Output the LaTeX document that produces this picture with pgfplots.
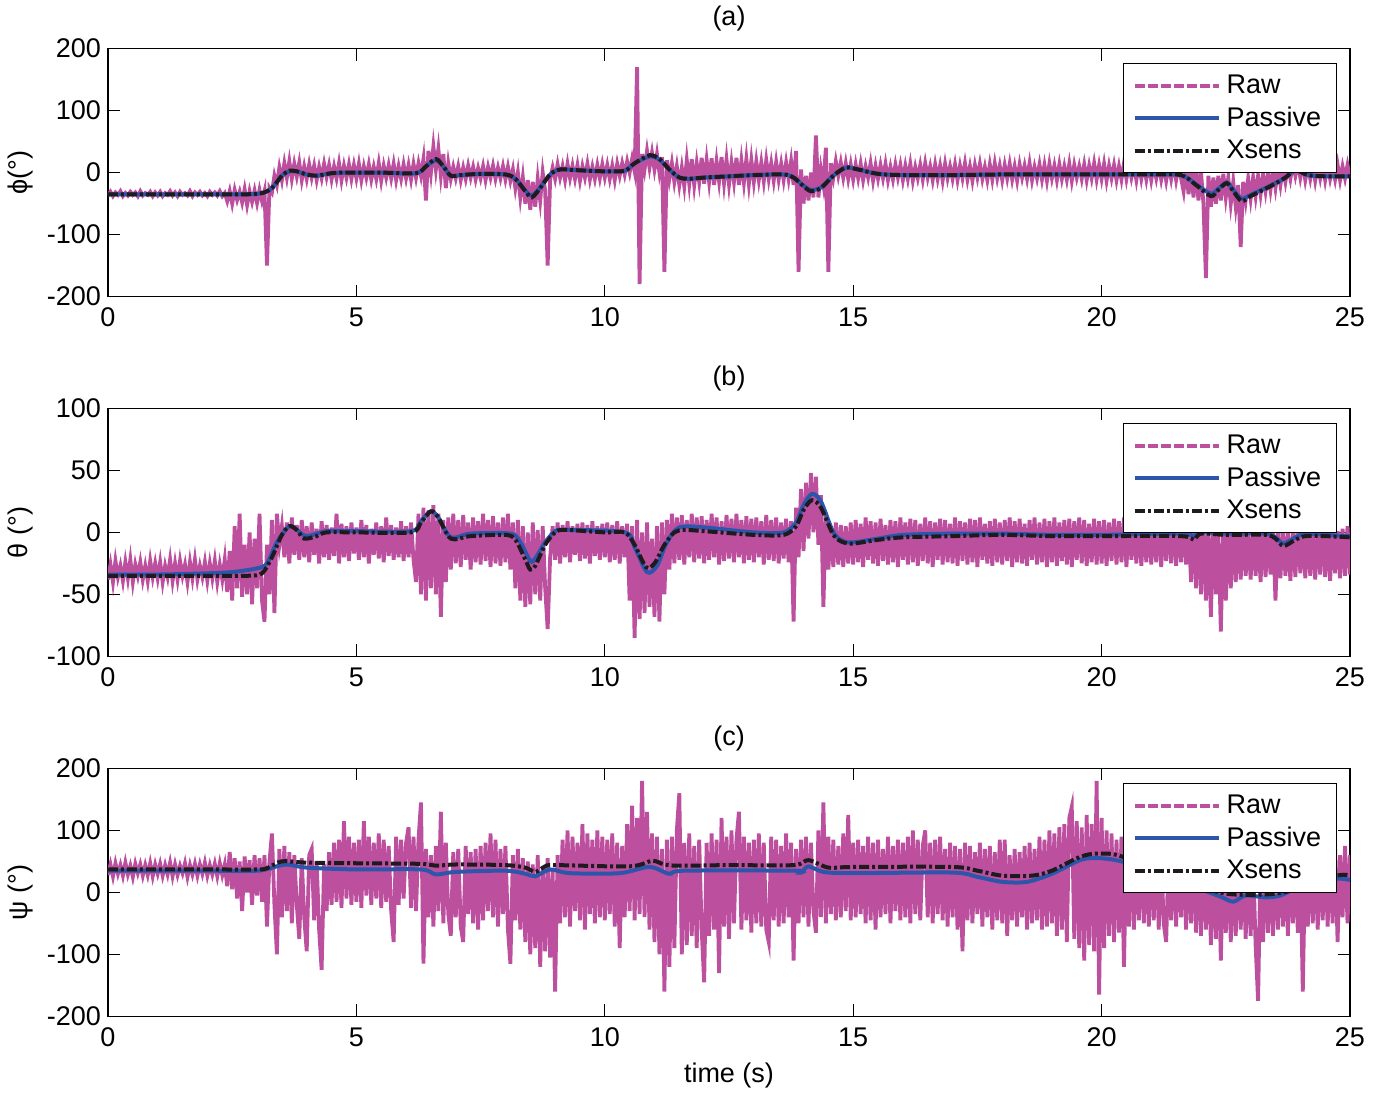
\documentclass[border=0pt]{standalone}
\usepackage{fontspec}
\setmainfont{Liberation Sans}
\usepackage{pgfplots}
\pgfplotsset{compat=1.18}
\definecolor{rawc}{RGB}{188,80,158}
\definecolor{pasc}{RGB}{45,85,170}
\definecolor{xsc}{RGB}{30,26,30}
\pgfplotsset{
  imu/.style={
    scale only axis, width=621pt, height=124pt,
    xmin=0, xmax=25, xtick={0,5,...,25},
    tick align=inside, major tick length=6pt,
    axis line style={line width=0.6pt},
    every tick/.style={black, line width=0.6pt},
    font=\fontsize{13.5}{16}\selectfont,
    /pgf/number format/assume math mode=true,
    xticklabel style={yshift=-2pt},
    ylabel style={at={(axis description cs:-0.0708,0.5)}, anchor=center},
    title style={yshift=-1pt},
    legend cell align=left,
    legend style={at={(0.9895,0.941)}, anchor=north east, draw=black,
      line width=0.6pt, fill=white, inner xsep=5pt, inner ysep=3pt,
      nodes={inner sep=2.6pt}, font=\fontsize{13.5}{16}\selectfont},
    legend image code/.code={\draw[##1] (0pt,0pt) -- (42pt,0pt);},
  },
  rawline/.style={rawc, line width=1.9pt},
  rawleg/.style={rawc, line width=2pt, dash pattern=on 5pt off 1.5pt},
  pas/.style={pasc, line width=2pt},
  xs/.style={xsc, line width=2pt, dash pattern=on 5pt off 1.5pt on 1.5pt off 1.5pt},
}
\begin{document}
\begin{tikzpicture}
\path[use as bounding box] (0,0) rectangle (686.5pt,549pt);

% (a) roll
\begin{axis}[imu, at={(54pt,400.7pt)}, anchor=south west,
  ymin=-200, ymax=200, ytick={-200,-100,0,100,200},
  title={(a)}, ylabel={ϕ(°)}]
\addplot[rawline, forget plot] table[row sep=\\, header=false, x expr=\coordindex/20, y index=0] {
-37\\-31\\-38\\-32\\-36\\-30\\-38\\-33\\-37\\-31\\-36\\-32\\-38\\-30\\-37\\-33\\-36\\-31\\-38\\-32\\
-37\\-31\\-38\\-33\\-36\\-30\\-37\\-32\\-38\\-31\\-36\\-33\\-37\\-30\\-38\\-32\\-36\\-31\\-37\\-33\\
-38\\-31\\-36\\-32\\-37\\-30\\-38\\-33\\-46\\-30\\-50\\-28\\-44\\-31\\-48\\-27\\-52\\-30\\-47\\-29\\
-49\\-28\\-46\\-30\\-150\\-25\\-32\\-5\\-20\\8\\-12\\15\\-8\\18\\-10\\14\\-6\\16\\-12\\10\\
-10\\13\\-8\\11\\-12\\9\\-9\\14\\-7\\12\\-11\\10\\-9\\15\\-12\\11\\-8\\13\\-10\\12\\
-9\\14\\-12\\10\\-8\\13\\-11\\9\\-10\\15\\-13\\11\\-8\\12\\-9\\14\\-12\\10\\-10\\13\\
-9\\12\\-11\\14\\-8\\15\\-5\\22\\-45\\35\\0\\42\\5\\38\\-5\\30\\-25\\15\\-10\\9\\
-9\\10\\-12\\8\\-10\\11\\-8\\9\\-11\\7\\-9\\10\\-12\\9\\-8\\11\\-10\\8\\-9\\10\\
-11\\9\\-13\\5\\-25\\0\\-40\\-8\\-50\\-12\\-60\\-15\\-55\\-10\\-45\\0\\-30\\-150\\-10\\8\\
-10\\13\\-8\\10\\-12\\14\\-9\\11\\-10\\12\\-13\\10\\-8\\14\\-11\\9\\-10\\12\\-9\\13\\
-8\\12\\-10\\11\\-12\\14\\-5\\15\\-3\\18\\0\\22\\2\\170\\-180\\30\\5\\35\\8\\32\\
5\\30\\0\\25\\-160\\20\\-10\\15\\-15\\10\\-20\\8\\-22\\20\\-18\\22\\-20\\15\\-15\\24\\
-18\\20\\-15\\23\\-20\\18\\-14\\25\\-17\\21\\-19\\16\\-15\\24\\-20\\19\\-16\\22\\-18\\20\\
-15\\18\\-12\\16\\-14\\20\\-10\\15\\-13\\17\\-11\\14\\-12\\16\\-10\\18\\-20\\35\\-160\\5\\
-50\\-5\\-45\\0\\-40\\60\\-40\\5\\-20\\40\\-160\\15\\-8\\18\\-5\\16\\-8\\15\\-10\\13\\
-11\\13\\-9\\14\\-12\\10\\-8\\15\\-13\\11\\-10\\12\\-9\\14\\-12\\9\\-11\\13\\-8\\12\\
-12\\11\\-10\\14\\-13\\9\\-9\\12\\-11\\15\\-8\\10\\-12\\13\\-10\\11\\-13\\14\\-9\\10\\
-10\\13\\-12\\11\\-9\\15\\-11\\10\\-13\\12\\-8\\14\\-10\\9\\-12\\13\\-11\\15\\-9\\11\\
-12\\12\\-9\\14\\-11\\10\\-13\\13\\-8\\11\\-10\\15\\-12\\9\\-9\\13\\-11\\12\\-13\\14\\
-9\\11\\-12\\13\\-10\\10\\-11\\14\\-13\\12\\-8\\10\\-10\\13\\-12\\11\\-9\\15\\-11\\12\\
-10\\14\\-13\\11\\-9\\12\\-12\\10\\-11\\15\\-10\\13\\-8\\11\\-12\\14\\-10\\12\\-11\\13\\
-12\\11\\-9\\13\\-11\\10\\-13\\12\\-10\\14\\-12\\11\\-9\\-30\\10\\-35\\5\\-40\\8\\-45\\
2\\-50\\-170\\-5\\-55\\-8\\-50\\-5\\-45\\-2\\-40\\-8\\-50\\-15\\-55\\-20\\-120\\-15\\-45\\-10\\
-42\\-8\\-38\\-5\\-35\\-3\\-30\\0\\-28\\2\\-25\\5\\-20\\8\\-15\\10\\-10\\15\\-5\\16\\
-8\\14\\-12\\10\\-10\\13\\-13\\11\\-9\\14\\-12\\12\\-10\\9\\-11\\13\\-12\\10\\-9\\12\\
-8\\
};
\addlegendimage{rawleg}
\addlegendentry{Raw}
\addplot[pas, smooth] coordinates {
(0,-35) (1,-35) (2,-35) (2.8,-35) (3.1,-33) (3.3,-25) (3.5,-5) (3.65,2) (3.8,2)
(4.0,-3) (4.2,-5) (4.5,-1) (4.8,0) (5.5,0) (6.2,-1) (6.4,10) (6.6,20) (6.75,10)
(6.9,-5) (7.1,-4) (7.5,-2) (8.0,-3) (8.2,-10) (8.4,-29) (8.53,-37) (8.7,-24)
(8.9,-3) (9.1,5) (9.4,4) (10.0,2) (10.4,3) (10.6,15) (10.9,26) (11.1,21) (11.3,5)
(11.5,-8) (11.7,-10) (12.0,-8) (12.5,-6) (13.0,-4) (13.6,-3) (13.8,-8) (14.0,-21)
(14.15,-28) (14.35,-24) (14.6,-5) (14.85,8) (15.1,5) (15.5,-2) (16,-4) (17,-4)
(18,-3) (19,-3) (20,-3) (21,-3) (21.6,-4) (21.9,-19) (22.2,-34) (22.35,-26)
(22.52,-16) (22.65,-28) (22.82,-42) (23.0,-36) (23.4,-21) (23.7,-8) (23.9,4)
(24.15,-4) (24.5,-6) (25,-6)
};
\addlegendentry{Passive}
\addplot[xs, smooth] coordinates {
(0,-35) (1,-35) (2,-35) (2.8,-35) (3.1,-33) (3.3,-25) (3.5,-5) (3.65,3) (3.8,2)
(4.0,-3) (4.2,-5) (4.5,-1) (4.8,0) (5.5,0) (6.2,-1) (6.4,10) (6.6,22) (6.75,10)
(6.9,-5) (7.1,-4) (7.5,-2) (8.0,-3) (8.2,-10) (8.4,-30) (8.53,-40) (8.7,-25)
(8.9,-3) (9.1,5) (9.4,4) (10.0,2) (10.4,3) (10.6,15) (10.9,28) (11.1,22) (11.3,5)
(11.5,-8) (11.7,-10) (12.0,-8) (12.5,-6) (13.0,-4) (13.6,-3) (13.8,-8) (14.0,-22)
(14.15,-30) (14.35,-25) (14.6,-5) (14.85,8) (15.1,5) (15.5,-2) (16,-4) (17,-4)
(18,-3) (19,-3) (20,-3) (21,-3) (21.6,-4) (21.9,-20) (22.2,-38) (22.35,-28)
(22.52,-17) (22.65,-30) (22.82,-46) (23.0,-38) (23.4,-22) (23.7,-8) (23.9,4)
(24.15,-4) (24.5,-6) (25,-6)
};
\addlegendentry{Xsens}
\end{axis}

% (b) pitch
\begin{axis}[imu, at={(54pt,220.8pt)}, anchor=south west,
  ymin=-100, ymax=100, ytick={-100,-50,0,50,100},
  title={(b)}, ylabel={θ (°)}]
\addplot[rawline, forget plot] table[row sep=\\, header=false, x expr=\coordindex/20, y index=0] {
-38\\-26\\-40\\-23\\-36\\-27\\-39\\-24\\-37\\-22\\-40\\-26\\-35\\-24\\-38\\-27\\-39\\-23\\-36\\-25\\
-37\\-24\\-40\\-27\\-36\\-22\\-39\\-25\\-38\\-23\\-35\\-26\\-40\\-24\\-37\\-22\\-38\\-27\\-36\\-24\\
-39\\-25\\-37\\-23\\-40\\-26\\-38\\-22\\-48\\-15\\-55\\5\\-45\\15\\-52\\-10\\-50\\0\\-58\\-5\\
-45\\15\\-55\\-72\\-10\\-50\\10\\-65\\15\\-10\\5\\-20\\8\\-25\\12\\-18\\6\\-22\\10\\-20\\
5\\-24\\8\\-18\\3\\-25\\9\\-20\\6\\-22\\4\\-19\\15\\-25\\7\\-20\\5\\-23\\8\\-17\\
4\\-22\\10\\-20\\6\\-25\\3\\-18\\8\\-21\\5\\-24\\12\\-19\\6\\-22\\4\\-20\\9\\-23\\
5\\-20\\8\\-22\\-40\\15\\-50\\20\\-55\\18\\-45\\22\\-50\\15\\-68\\10\\-40\\12\\-30\\15\\
-25\\10\\-28\\14\\-22\\8\\-30\\12\\-24\\9\\-26\\15\\-23\\10\\-28\\13\\-25\\8\\-27\\12\\
-24\\15\\-30\\8\\-45\\10\\-55\\5\\-60\\0\\-58\\8\\-50\\2\\-55\\5\\-45\\-78\\-20\\5\\
-22\\8\\-25\\6\\-20\\9\\-24\\5\\-18\\7\\-23\\8\\-21\\6\\-25\\9\\-19\\5\\-22\\7\\
-20\\8\\-24\\6\\-22\\9\\-25\\5\\-20\\7\\-55\\5\\-85\\10\\-70\\0\\-65\\8\\-60\\-5\\
-68\\5\\-72\\8\\-50\\10\\-30\\15\\-25\\12\\-22\\14\\-26\\10\\-20\\15\\-24\\12\\-21\\13\\
-25\\10\\-22\\15\\-20\\12\\-26\\9\\-23\\14\\-21\\11\\-24\\15\\-20\\10\\-25\\13\\-22\\11\\
-24\\12\\-20\\9\\-26\\14\\-22\\10\\-23\\12\\-25\\8\\-21\\11\\-24\\9\\-72\\20\\-20\\35\\
-15\\40\\-5\\48\\0\\45\\-10\\30\\-60\\15\\-30\\5\\-28\\8\\-26\\6\\-28\\5\\-25\\8\\
-26\\10\\-24\\7\\-28\\12\\-22\\9\\-25\\8\\-27\\11\\-23\\6\\-26\\10\\-24\\9\\-28\\12\\
-22\\8\\-26\\11\\-24\\10\\-27\\7\\-23\\12\\-25\\9\\-28\\8\\-22\\11\\-26\\10\\-24\\7\\
-25\\12\\-27\\9\\-23\\8\\-26\\11\\-24\\10\\-28\\12\\-22\\7\\-25\\9\\-27\\11\\-24\\8\\
-26\\10\\-23\\12\\-28\\9\\-24\\11\\-25\\7\\-27\\10\\-22\\12\\-26\\8\\-24\\11\\-28\\9\\
-24\\12\\-27\\8\\-23\\10\\-26\\11\\-28\\9\\-22\\12\\-25\\10\\-27\\7\\-24\\11\\-26\\9\\
-25\\10\\-27\\8\\-23\\11\\-26\\9\\-24\\12\\-28\\10\\-22\\8\\-25\\11\\-27\\9\\-24\\10\\
-26\\9\\-24\\11\\-28\\8\\-23\\10\\-25\\12\\-27\\9\\-24\\11\\-26\\8\\-40\\10\\-45\\5\\
-50\\8\\-55\\5\\-68\\10\\-50\\0\\-80\\5\\-55\\8\\-45\\5\\-40\\3\\-38\\5\\-35\\0\\
-38\\4\\-35\\2\\-40\\5\\-36\\0\\-34\\3\\-55\\2\\-37\\4\\-35\\0\\-39\\3\\-36\\5\\
-33\\2\\-37\\4\\-35\\0\\-38\\3\\-34\\5\\-36\\2\\-39\\4\\-33\\1\\-37\\3\\-35\\5\\
-34\\
};
\addlegendimage{rawleg}
\addlegendentry{Raw}
\addplot[pas, smooth] coordinates {
(0,-34) (1,-34) (2,-33) (2.5,-32) (3.0,-29) (3.2,-25) (3.4,-8) (3.65,5) (3.8,2)
(4.0,-3) (4.4,1) (5,1) (6.1,1) (6.3,9) (6.5,17) (6.65,12) (6.9,-4) (7.3,-1)
(8.1,-1) (8.3,-8) (8.5,-23) (8.6,-21) (8.8,-8) (9.0,1) (9.2,2) (10.4,0)
(10.6,-12) (10.85,-32) (11.05,-27) (11.25,-8) (11.5,4) (12.0,4) (13.0,0)
(13.6,0) (13.85,8) (14.0,22) (14.17,31) (14.35,25) (14.6,0) (14.8,-7) (15.0,-8)
(15.5,-5) (16.0,-2) (17,-1) (18,-1) (19,-2) (20,-2) (21.6,-1) (21.85,-3)
(22.0,0) (22.5,-1) (23.3,-1) (23.5,-4) (23.66,-9) (23.9,-4) (24.1,-1) (24.5,-2)
(25,-3)
};
\addlegendentry{Passive}
\addplot[xs, smooth] coordinates {
(0,-35) (1,-35) (2,-35) (2.8,-35) (3.1,-33) (3.3,-20) (3.5,-2) (3.65,5) (3.8,2)
(3.95,-5) (4.2,-3) (4.4,0) (5,0) (6.1,0) (6.3,8) (6.5,17) (6.65,12) (6.9,-5)
(7.3,-3) (8.0,-2) (8.2,-6) (8.4,-22) (8.5,-30) (8.6,-27) (8.8,-10) (9.0,0)
(9.2,2) (10.0,0) (10.4,0) (10.6,-10) (10.83,-28) (11.0,-25) (11.2,-10) (11.4,0)
(11.6,2) (12.0,1) (13.0,-2) (13.6,-2) (13.85,5) (14.0,18) (14.17,26) (14.35,20)
(14.6,-2) (14.8,-8) (15.0,-9) (15.5,-6) (16.0,-4) (17,-3) (18,-2) (19,-3) (20,-3)
(21.6,-3) (21.85,-6) (22.0,-1) (22.5,-2) (23.3,-2) (23.5,-5) (23.66,-11)
(23.9,-6) (24.1,-3) (24.5,-3) (25,-4)
};
\addlegendentry{Xsens}
\end{axis}

% (c) yaw
\begin{axis}[imu, at={(54pt,40.8pt)}, anchor=south west,
  ymin=-200, ymax=200, ytick={-200,-100,0,100,200},
  title={(c)}, ylabel={ψ (°)}, xlabel={time (s)},
  xlabel style={at={(axis description cs:0.5,-0.24)}, anchor=center}]
\addplot[rawline, forget plot] table[row sep=\\, header=false, x expr=\coordindex/20, y index=0] {
28\\45\\26\\47\\30\\44\\27\\48\\29\\43\\25\\46\\31\\45\\27\\44\\28\\47\\26\\45\\
30\\46\\27\\44\\29\\48\\26\\45\\28\\43\\31\\47\\25\\44\\29\\46\\27\\45\\30\\48\\
27\\44\\29\\46\\26\\47\\28\\45\\10\\65\\5\\55\\-10\\50\\-30\\58\\0\\52\\-20\\60\\
-5\\55\\-15\\60\\-55\\50\\95\\-20\\-100\\70\\-40\\75\\-30\\65\\-50\\60\\-20\\-75\\55\\-40\\
-95\\60\\70\\-45\\50\\-60\\-125\\45\\-30\\65\\-20\\80\\-15\\85\\-25\\115\\-10\\90\\-20\\80\\
-15\\85\\-25\\115\\-5\\90\\-20\\80\\-10\\95\\-25\\85\\-15\\75\\-30\\-80\\90\\-20\\85\\-10\\
80\\105\\-25\\90\\-30\\85\\145\\-115\\70\\-40\\60\\-55\\75\\-30\\130\\-50\\80\\-35\\-70\\65\\
-40\\70\\-55\\-80\\75\\-35\\65\\-50\\70\\-60\\75\\-45\\80\\-30\\95\\-40\\85\\-55\\70\\-35\\
75\\-60\\-115\\60\\-45\\70\\-60\\55\\-80\\50\\-100\\45\\-90\\60\\-120\\40\\-95\\55\\-105\\35\\
-160\\60\\-50\\85\\-40\\100\\-55\\90\\-30\\80\\-45\\110\\-60\\95\\-35\\85\\-50\\100\\-40\\90\\
-45\\85\\-35\\95\\-55\\80\\-90\\75\\-40\\110\\-30\\140\\-45\\120\\-35\\180\\-40\\130\\-60\\95\\
-80\\90\\-100\\70\\-160\\85\\-120\\90\\-90\\100\\160\\-100\\80\\-85\\95\\-70\\75\\-90\\85\\-60\\
-145\\80\\-70\\95\\-60\\85\\-130\\120\\-55\\90\\-75\\100\\-50\\85\\130\\-60\\90\\-45\\80\\-65\\
85\\-50\\95\\-55\\80\\-60\\-80\\90\\-45\\85\\-55\\75\\-50\\95\\-40\\80\\-110\\70\\-50\\85\\
-40\\90\\-55\\80\\-30\\-65\\100\\-40\\145\\-50\\90\\-35\\85\\-45\\75\\-40\\95\\-30\\125\\-45\\
80\\-40\\85\\-35\\75\\-50\\90\\-45\\80\\-60\\85\\-40\\70\\-35\\90\\-50\\75\\-30\\85\\-45\\
80\\-40\\90\\-50\\100\\-35\\85\\-45\\75\\100\\-40\\80\\-50\\85\\-35\\90\\-45\\70\\-55\\80\\
-40\\75\\-60\\70\\-95\\80\\-45\\75\\-50\\65\\-35\\80\\-55\\70\\-40\\75\\-60\\65\\-45\\85\\
-50\\85\\-70\\60\\-45\\70\\-55\\65\\-40\\75\\-60\\80\\-50\\70\\-45\\90\\-60\\85\\-55\\100\\
-50\\95\\-70\\105\\-60\\110\\-80\\120\\138\\-75\\115\\-90\\105\\-110\\125\\-85\\110\\-95\\180\\-165\\
120\\-90\\100\\-70\\95\\-80\\85\\-65\\90\\-120\\75\\-55\\80\\-60\\70\\-45\\85\\-50\\75\\-55\\
70\\-45\\80\\-60\\65\\-50\\-80\\70\\-45\\75\\-55\\65\\-40\\70\\-60\\60\\-50\\75\\-65\\70\\
-70\\65\\-60\\75\\-85\\60\\-75\\70\\-110\\55\\-65\\60\\-80\\50\\-70\\65\\-60\\55\\-75\\60\\
-70\\50\\-85\\-175\\55\\-80\\60\\-65\\50\\-70\\55\\-60\\65\\-55\\50\\-70\\60\\-50\\55\\-65\\
50\\-160\\60\\-55\\65\\-50\\55\\-60\\70\\-45\\60\\-55\\65\\-50\\70\\-80\\60\\-40\\75\\-50\\
60\\
};
\addlegendimage{rawleg}
\addlegendentry{Raw}
\addplot[pas, smooth] coordinates {
(0,35) (1,35) (2,35) (3.0,35) (3.3,40) (3.6,45) (4.0,40) (5.0,37) (6.3,37)
(6.6,29) (7.0,33) (8.0,35) (8.4,30) (8.6,26) (8.9,37) (9.3,31) (10.3,31)
(10.9,41) (11.3,30) (11.6,35) (13.8,35) (13.95,32) (14.1,42) (14.4,33) (15,31)
(17,32) (17.5,25) (18.0,17) (18.5,17) (19.0,30) (19.6,53) (20.0,55) (20.4,50)
(21.0,35) (21.5,20) (22.0,5) (22.4,-7) (22.65,-15) (22.9,-5) (23.3,-8) (23.6,-5)
(24.0,10) (24.7,22) (25,20)
};
\addlegendentry{Passive}
\addplot[xs, smooth] coordinates {
(0,37) (1,37) (2,37) (3.0,37) (3.2,39) (3.5,50) (4.0,48) (5.0,47) (6.3,46)
(6.6,43) (7.0,45) (8.0,44) (8.4,40) (8.6,33) (8.8,42) (9.0,44) (10.5,42)
(10.95,51) (11.2,45) (11.5,43) (12.5,44) (13.8,44) (14.1,52) (14.5,40) (15,41)
(17,41) (17.5,35) (18.0,27) (18.6,27) (19.0,35) (19.5,55) (19.8,62) (20.2,62)
(20.5,55) (21.0,35) (21.5,20) (22.0,8) (22.5,-2) (23.0,-4) (23.5,-2) (23.9,5)
(24.3,20) (24.8,28) (25,28)
};
\addlegendentry{Xsens}
\end{axis}
\end{tikzpicture}
\end{document}
